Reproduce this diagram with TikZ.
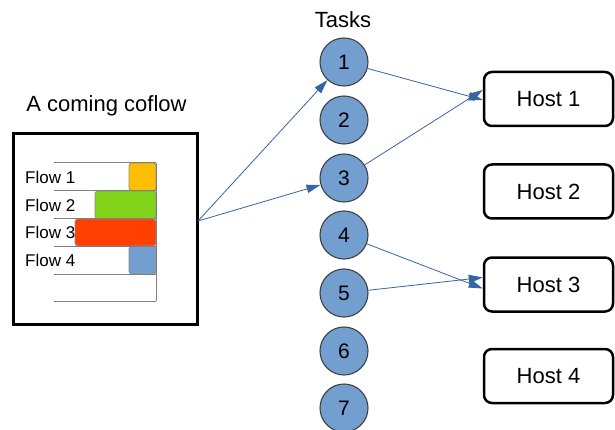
\documentclass[tikz,border=0pt]{standalone}
\usepackage{fontspec}
\setmainfont{Liberation Sans}
\usetikzlibrary{arrows.meta}
\definecolor{taskblue}{HTML}{729FCF}
\definecolor{arrowblue}{HTML}{3465A4}
\definecolor{flowyellow}{HTML}{FFBF00}
\definecolor{flowgreen}{HTML}{81D41A}
\definecolor{flowred}{HTML}{FF4000}
\definecolor{gridgray}{HTML}{808080}
\tikzset{
  task/.style={circle, draw=black!75, line width=1.1pt, fill=taskblue, minimum size=48pt, inner sep=0pt, font=\fontsize{21}{21}\selectfont},
  host/.style={draw=black, line width=2.5pt, rounded corners=8pt, minimum width=129pt, minimum height=54pt, inner sep=0pt, font=\fontsize{22}{22}\selectfont},
  conn/.style={draw=arrowblue, line width=0.8pt, -{Triangle[length=14pt,width=8.5pt]}},
  flowbar/.style={draw=black!45, line width=0.8pt, rounded corners=3pt},
  flowlabel/.style={anchor=west, inner sep=0pt, font=\fontsize{17}{17}\selectfont},
  gridline/.style={draw=gridgray, line width=1pt},
  title/.style={font=\fontsize{22}{22}\selectfont, inner sep=0pt}
}
\begin{document}
\begin{tikzpicture}[x=1pt,y=-1pt]
\useasboundingbox (0,0) rectangle (615,430);
% coflow box
\node[draw=black, line width=3pt, minimum width=184pt, minimum height=190pt, inner sep=0pt] (coflow) at (105,229) {};
\node[title] (coflowtitle) at (106.5,106) {A coming coflow};
% bars
\draw[flowbar, fill=flowyellow] (129,163) rectangle (156,191);
\draw[flowbar, fill=flowgreen] (95,191) rectangle (156,219);
\draw[flowbar, fill=flowred] (75,219) rectangle (156,246);
\draw[flowbar, fill=taskblue] (129,246) rectangle (156,274);
% grid lines
\foreach \yy in {163,191,219,246,274,301} \draw[gridline] (54,\yy) -- (156,\yy);
\draw[gridline] (156,163) -- (156,301);
\node[flowlabel] (f1) at (25,177) {Flow 1};
\node[flowlabel] (f2) at (25,205) {Flow 2};
\node[flowlabel] (f3) at (25,232.5) {Flow 3};
\node[flowlabel] (f4) at (25,260) {Flow 4};
% tasks
\node[title] (taskstitle) at (343,20) {Tasks};
\node[task] (t1) at (344,62) {1};
\node[task] (t2) at (344,120) {2};
\node[task] (t3) at (344,178) {3};
\node[task] (t4) at (344,235) {4};
\node[task] (t5) at (344,293) {5};
\node[task] (t6) at (344,351) {6};
\node[task] (t7) at (344,408) {7};
% hosts
\node[host] (h1) at (548.5,99) {Host 1};
\node[host] (h2) at (548.5,191.5) {Host 2};
\node[host] (h3) at (548.5,284.5) {Host 3};
\node[host] (h4) at (548.5,376) {Host 4};
% connectors
\coordinate (src) at (198,221);
\draw[conn] (src) -- (t1);
\draw[conn] (src) -- (t3);
\draw[conn] (t1) -- ([yshift=-1pt]h1.west);
\draw[conn] (t3) -- ([yshift=9pt]h1.west);
\draw[conn] (t4) -- ([yshift=-4pt]h3.west);
\draw[conn] (t5) -- ([yshift=7pt]h3.west);
\end{tikzpicture}
\end{document}
